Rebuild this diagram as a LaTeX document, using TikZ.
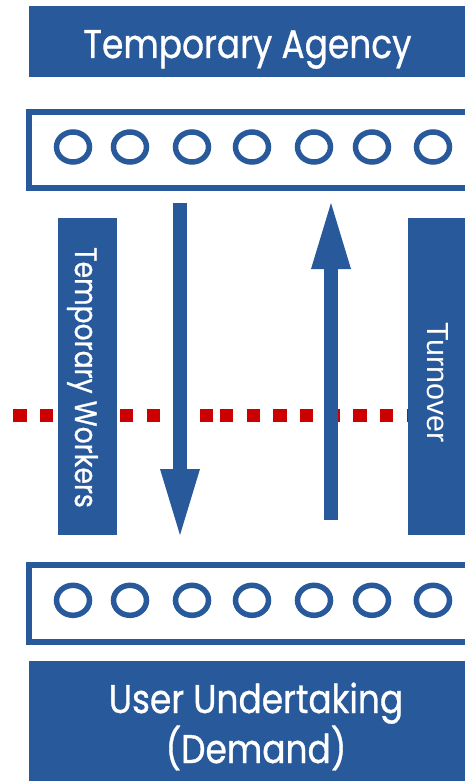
\documentclass[tikz,border=0pt]{standalone}
\usepackage{fontspec}
\setmainfont{Poppins}[FakeStretch=0.86,FakeBold=0.8]
\newfontfamily\arialf{Liberation Sans}
\usetikzlibrary{arrows.meta,shapes.geometric}
\definecolor{bblue}{RGB}{40,89,155}
\definecolor{rred}{RGB}{204,0,0}
\begin{document}
\begin{tikzpicture}[x=1pt,y=-1pt,
  bar/.style={rectangle, fill=bblue, draw=none, inner sep=0pt},
  holder/.style={rectangle, draw=bblue, line width=6pt, fill=white, inner sep=0pt},
  dot/.style={ellipse, draw=bblue, line width=5.5pt, minimum width=33pt, minimum height=30pt, inner sep=0pt},
  lbl/.style={text=white, inner sep=0pt, anchor=base},
  redline/.style={draw=rred, line width=13pt, line cap=butt, dash pattern=on 13.3pt off 13.37pt},
  flow/.style={draw=bblue, line width=14pt, -{Triangle[length=66pt,width=40pt,line width=0pt]}}
]
\useasboundingbox (0,0) rectangle (465,781);
\clip (0,0) rectangle (465,781);
% red dotted line
\coordinate (r1) at (13.3,415);
\coordinate (r2) at (213.3,415);
\coordinate (r3) at (220,415);
\coordinate (r4) at (420,415);
\draw[redline] (r1) -- (r2);
\draw[redline] (r3) -- (r4);
% top bar
\node[bar, minimum width=437pt, minimum height=71pt] (agency) at (247.5,41.5) {};
\node[lbl, font=\fontsize{40}{48}\selectfont] (agencyT) at (247.5,58) {Temporary Agency};
% holders
\node[holder, minimum width=441pt, minimum height=75.5pt] (pool1) at (249.5,149.75) {};
\node[holder, minimum width=441pt, minimum height=77pt] (pool2) at (249.5,603.5) {};
\foreach \i/\x in {1/73,2/130,3/192,4/252,5/314,6/372,7/433}{
  \node[dot] (a\i) at (\x,147) {};
  \node[dot] (b\i) at (\x,600.3) {};
}
% side bars
\node[bar, minimum width=59pt, minimum height=317pt] (workers) at (87.5,376.5) {};
\node[lbl, rotate=-90, font=\fontsize{31}{36}\selectfont] (workersT) at (75,377.5) {Temporary Workers};
\node[bar, minimum width=58pt, minimum height=317pt] (turn) at (437,376.5) {};
\node[lbl, rotate=-90, font=\arialf\fontsize{30.5}{36}\selectfont] (turnT) at (427,382.5) {Turnover};
% arrows
\coordinate (d1) at (180,203);
\coordinate (d2) at (180,535);
\coordinate (u1) at (331,520);
\coordinate (u2) at (331,203);
\draw[flow] (d1) -- (d2);
\draw[flow] (u1) -- (u2);
% bottom bar
\node[bar, minimum width=437pt, minimum height=129pt] (user) at (247.5,725.5) {};
\node[lbl, font=\fontsize{40}{48}\selectfont] (userT1) at (256,713) {User Undertaking};
\node[lbl, font=\fontsize{40}{48}\selectfont] (userT2) at (256,763) {(Demand)};
\end{tikzpicture}
\end{document}
